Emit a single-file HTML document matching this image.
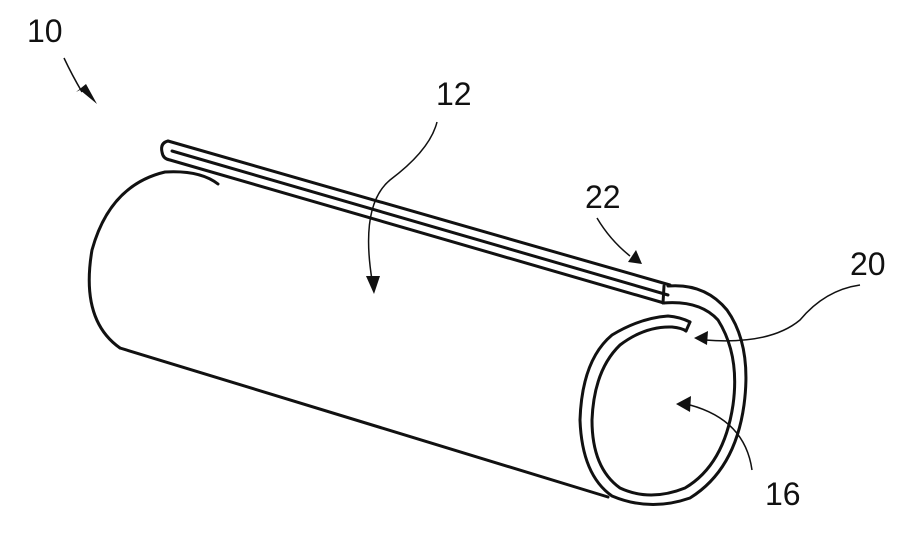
<!DOCTYPE html>
<html><head><meta charset="utf-8"><style>html,body{margin:0;padding:0;background:#fff}svg{display:block}</style></head>
<body>
<svg width="922" height="542" viewBox="0 0 922 542" xmlns="http://www.w3.org/2000/svg">
<g fill="none" stroke="#111" stroke-width="3" stroke-linecap="round" stroke-linejoin="round">
<path d="M168,141 L670,285"/>
<path d="M172,151 L668,295"/>
<path d="M170,160 L664,303"/>
<path d="M168,141 Q160,143 162,152 Q163,159 170,160"/>
<path d="M664,286 L663,303"/>
<path d="M218,184 Q200,170 165,172 Q110,185 92,250 Q80,320 120,348"/>
<path d="M120,348 L608,497"/>
<path d="M668,286 Q705,283 727,310 Q752,345 744,405 Q735,470 690,498 Q650,512 612,496 Q582,475 580,420 Q582,360 612,335 Q640,318 668,316 Q680,317 690,322"/>
<path d="M663,303 Q700,300 718,320 Q740,355 733,405 Q724,465 685,488 Q650,502 620,488 Q592,468 592,420 Q594,370 620,345 Q645,326 672,327 Q682,328 686,331"/>
<path d="M690,322 L686,331"/>
</g>
<g fill="none" stroke="#111" stroke-width="1.5">
<path d="M64,58 Q72,75 82,92"/>
<path d="M437,122 Q430,150 390,180 Q360,205 372,280"/>
<path d="M597,218 Q610,240 630,256"/>
<path d="M860,285 Q825,290 800,320 Q770,345 705,340"/>
<path d="M752,470 Q745,420 690,405"/>
</g>
<g fill="#111">
<polygon points="80,90 97,104 86,84 76,92"/>
<polygon points="374,294 366,276 380,276"/>
<polygon points="642,264 628,262 636,250"/>
<polygon points="694,338 708,331 707,345"/>
<polygon points="676,404 691,396 690,412"/>
</g>
<g font-family="Liberation Sans, sans-serif" font-size="32" fill="#111">
<text x="27" y="42">10</text>
<text x="436" y="105">12</text>
<text x="585" y="208">22</text>
<text x="850" y="275">20</text>
<text x="765" y="505">16</text>
</g>
</svg>
</body></html>
